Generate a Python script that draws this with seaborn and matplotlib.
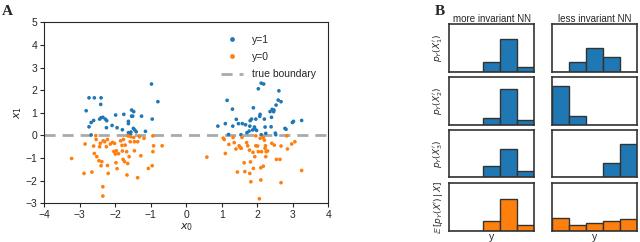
import numpy as np
import pandas as pd
import matplotlib
matplotlib.use("Agg")
import matplotlib.pyplot as plt
import seaborn as sns

# panel A: points
x0_pos = [-0.98, -0.80, -2.82, -2.74, -2.59, -2.40, -2.41, -2.74, -2.68, -2.61, -2.68, -2.44,
          -2.40, -2.35, -2.28, -2.24, -2.25, -2.09, -1.99, -1.95, -1.80, -1.76, -1.63, -1.63,
          -1.54, -1.48, -1.51, -1.54, -1.49, -1.45, -1.56, -1.63, -1.41, -1.26, -1.15, -0.96,
          -1.57,
          0.89, 1.10, 1.15, 1.19, 1.30, 1.31, 1.41, 1.47, 1.54, 1.58, 1.67, 1.71, 1.77, 1.79,
          1.80, 1.84, 1.87, 1.89, 1.92, 1.93, 1.96, 1.98, 2.03, 2.07, 2.08, 2.11, 2.18, 2.11,
          2.20, 2.22, 2.24, 2.36, 2.39, 2.40, 2.42, 2.46, 2.47, 2.53, 2.59, 2.61, 2.67, 2.52,
          2.51, 2.78, 2.81, 2.99, 3.02, 3.25]
x1_pos = [2.27, 1.49, 1.09, 1.66, 1.66, 1.66, 1.37, 0.38, 0.57, 0.66, 0.02, 0.72,
          0.78, 0.80, 0.72, 0.65, 0.34, 0.44, 0.90, 0.34, 0.25, 0.93, 0.62, 0.52,
          1.12, 1.05, 0.85, 0.85, 0.31, 0.24, 0.15, 0.12, 0.16, 0.85, 0.18, 0.72,
          0.06,
          0.41, 0.52, 1.55, 0.04, 1.16, 0.41, 0.71, 0.52, 0.03, 0.52, 0.47, 0.12, 0.19, 0.41,
          0.65, 0.72, 0.24, 1.22, 0.37, 0.29, 0.72, 0.22, 2.06, 0.84, 0.93, 2.31, 2.27, 0.03,
          0.72, 0.37, 0.09, 1.05, 0.38, 0.80, 1.15, 1.05, 1.12, 1.34, 1.56, 1.97, 1.49, 0.03,
          0.10, 0.31, 0.27, 0.57, 0.62, 0.66]

x0_neg = [-3.23, -2.88, -2.85, -2.66, -2.61, -2.59, -2.55, -2.54, -2.52, -2.44, -2.46, -2.42,
          -2.40, -2.38, -2.35, -2.35, -2.34, -2.30, -2.25, -2.22, -2.22, -2.20, -2.14, -2.08,
          -2.04, -2.02, -2.00, -1.97, -1.98, -1.95, -1.91, -1.85, -1.81, -1.80, -1.78, -1.74,
          -1.77, -1.72, -1.68, -1.67, -1.65, -1.64, -1.61, -1.58, -1.56, -1.48, -1.46, -1.46,
          -1.37, -1.37, -1.32, -1.28, -1.19, -1.07, -0.96, -0.94, -0.92, -0.94, -0.68,
          0.58, 1.04, 1.07, 1.10, 1.20, 1.32, 1.35, 1.40, 1.44, 1.49, 1.52, 1.55, 1.57, 1.63,
          1.65, 1.70, 1.73, 1.78, 1.79, 1.81, 1.82, 1.88, 1.89, 1.93, 1.96, 1.96, 2.01, 2.03,
          2.06, 2.08, 2.10, 2.10, 2.12, 2.17, 2.17, 2.20, 2.22, 2.23, 2.24, 2.25, 2.29, 2.41,
          2.48, 2.54, 2.64, 2.67, 2.67, 2.83, 2.85, 2.97, 3.06, 3.25]
x1_neg = [-1.02, -1.68, -0.38, -1.62, -0.47, -0.80, -0.01, -0.18, -0.94, -0.50, -1.12, -0.35,
          -1.34, -1.16, -2.27, -2.68, -0.24, -0.28, -0.50, -0.18, -1.33, -1.68, -0.38, -0.31,
          -0.71, -0.35, -0.82, -0.68, -1.21, -1.47, -0.81, -0.24, -0.44, -0.69, -1.06, -1.16,
          -0.18, -0.43, -0.72, -1.75, -1.24, -0.02, -0.94, -0.28, -0.06, -0.09, -0.28, -0.68,
          -1.87, -0.28, -0.06, -0.90, -0.13, -1.46, -1.34, -0.72, -0.46, -0.02, -0.46,
          -0.96, -0.12, -0.18, -0.80, -0.40, -0.09, -0.32, -0.60, -1.62, -0.46, -0.54, -0.57,
          -0.09, -1.21, -1.60, -0.32, -0.46, -0.65, -1.68, -1.17, -2.05, -0.75, -1.46, -0.94,
          -0.02, -0.46, -0.47, -0.72, -2.80, -0.13, -1.43, -1.97, -0.72, -0.09, -1.36, -0.21,
          -0.57, -0.46, -0.94, -0.72, -0.69, -0.35, -0.43, -1.06, -1.06, -0.47, -2.09, -0.02,
          -0.60, -0.38, -0.28, -1.55]

# panel B: class probabilities over 5 bins
bins = [0, 1, 2, 3, 4]
more_inv = [
    [0.00, 0.00, 0.21, 0.70, 0.09],
    [0.00, 0.00, 0.15, 0.76, 0.10],
    [0.00, 0.00, 0.23, 0.59, 0.13],
    [0.00, 0.00, 0.20, 0.68, 0.11],
]
less_inv = [
    [0.00, 0.20, 0.51, 0.30, 0.00],
    [0.81, 0.19, 0.00, 0.00, 0.00],
    [0.00, 0.00, 0.00, 0.29, 0.70],
    [0.26, 0.13, 0.17, 0.21, 0.24],
]
row_labels = [r"$p_Y(X_1')$", r"$p_Y(X_2')$", r"$p_Y(X_3')$", r"$\mathbb{E}\,[p_Y(X')\,|\,X]$"]
col_titles = ["more invariant NN", "less invariant NN"]

sns.set_style("ticks")
plt.rcParams["font.family"] = ["Liberation Sans", "DejaVu Sans"]
plt.rcParams["mathtext.fontset"] = "dejavusans"

blue = "#1f77b4"
orange = "#ff7f0e"

fig = plt.figure(figsize=(6.4, 2.42), dpi=100)

# ---- panel A
df = pd.DataFrame({
    "x0": x0_pos + x0_neg,
    "x1": x1_pos + x1_neg,
    "label": ["y=1"] * len(x0_pos) + ["y=0"] * len(x0_neg),
})
ax = fig.add_axes([0.0692, 0.16, 0.4437, 0.748])
sns.scatterplot(data=df, x="x0", y="x1", hue="label", hue_order=["y=1", "y=0"],
                palette={"y=1": blue, "y=0": orange}, s=7, linewidth=0, ax=ax)
ax.axhline(0, color="#aaaaaa", ls=(0, (4, 2.5)), lw=2, label="true boundary", zorder=0)
ax.set_xlim(-4, 4)
ax.set_ylim(-3, 5)
ax.set_xticks(range(-4, 5))
ax.set_yticks(range(-3, 6))
ax.set_xlabel(r"$x_0$", fontsize=8, labelpad=1)
ax.set_ylabel(r"$x_1$", fontsize=8, labelpad=1)
ax.tick_params(labelsize=7.5, length=3, width=0.8, pad=2)
for s in ax.spines.values():
    s.set_linewidth(0.8)
ax.legend(loc="upper right", frameon=False, fontsize=7.5, handlelength=2.2,
          markerscale=1.3, borderaxespad=0.8, labelspacing=0.7)
fig.text(0.003, 0.94, "A", fontsize=11, fontweight="bold", family="Liberation Serif")

# ---- panel B
col_left = [0.702, 0.862]
col_w = [0.1328, 0.134]
row_bottom = [0.704, 0.485, 0.2686, 0.0467]
row_h = 0.1955
for c, data in enumerate([more_inv, less_inv]):
    color = blue
    for r in range(4):
        color = orange if r == 3 else blue
        axb = fig.add_axes([col_left[c], row_bottom[r], col_w[c], row_h])
        sns.barplot(x=bins, y=data[r], color=color, width=1.0, edgecolor="#333333",
                    linewidth=1.0, saturation=1, ax=axb)
        axb.set_xlim(-0.5, 4.5)
        axb.set_ylim(0, 1)
        axb.set_xticks([])
        axb.set_yticks([])
        for s in axb.spines.values():
            s.set_linewidth(1.2)
            s.set_color("#333333")
        if c == 0:
            axb.set_ylabel(row_labels[r], fontsize=6.5, labelpad=3)
        if r == 0:
            axb.set_title(col_titles[c], fontsize=7, pad=2)
        if r == 3:
            axb.set_xlabel("y", fontsize=7.5, labelpad=1)

fig.text(0.68, 0.94, "B", fontsize=11, fontweight="bold", family="Liberation Serif")

fig.savefig("out.png", dpi=100)
